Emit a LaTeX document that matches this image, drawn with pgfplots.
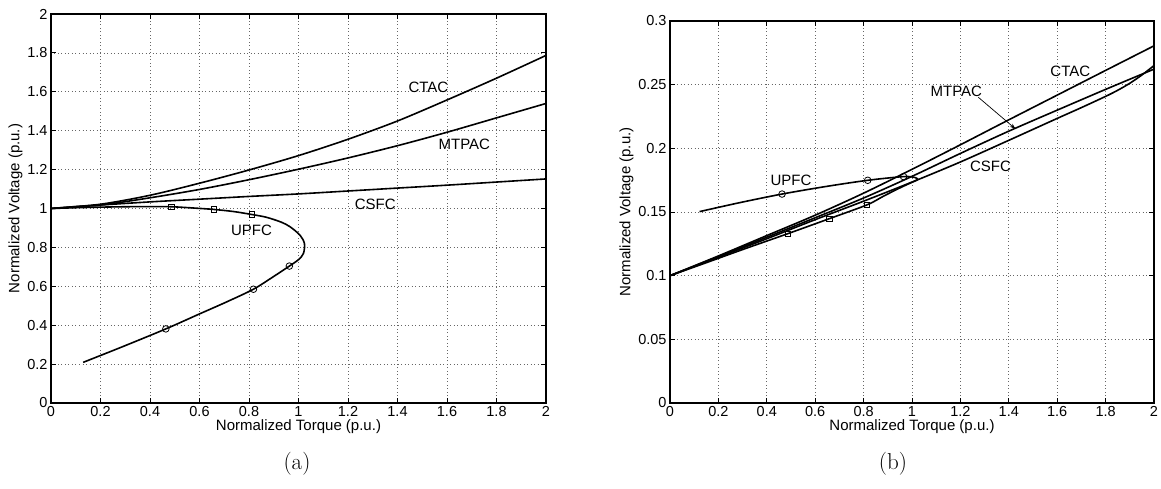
\documentclass[border=0pt]{standalone}
\usepackage{fontspec}
\usepackage{pgfplots}
\pgfplotsset{compat=1.18}
\usetikzlibrary{arrows.meta}
\newfontfamily\arial{Liberation Sans}
\tikzset{lab/.style={font=\arial\fontsize{15}{17}\selectfont}}
\pgfplotsset{
  mat/.style={
    scale only axis,
    xmin=0, xmax=2,
    xtick={0,0.2,0.4,0.6,0.8,1,1.2,1.4,1.6,1.8,2},
    grid=major,
    grid style={dash pattern=on 0.9pt off 2.6pt, black!60, line width=0.7pt},
    tick align=inside,
    major tick length=5pt,
    axis line style={line width=1.2pt},
    tick style={line width=0.9pt, black},
    ticklabel style={font=\arial\fontsize{14.5}{16}\selectfont},
    label style={font=\arial\fontsize{15}{17}\selectfont},
    /pgf/number format/assume math mode=true,
    /pgf/number format/fixed,
    /pgf/number format/precision=2,
    xlabel={Normalized Torque (p.u.)},
    ylabel={Normalized Voltage (p.u.)},
    xlabel style={yshift=4pt},
    ylabel style={yshift=-2pt},
  },
  curve/.style={black, line width=1.6pt, smooth, mark=none},
  sq/.style={only marks, mark=square, mark size=2.7pt, mark options={black, line width=0.8pt, fill=none}},
  ci/.style={only marks, mark=o, mark size=3.3pt, mark options={black, line width=0.8pt}},
}
\begin{document}
\begin{tikzpicture}
\useasboundingbox (0,0) rectangle (1161pt,488pt);
% ---------------- (a) ----------------
\begin{axis}[mat, at={(51pt,85pt)}, anchor=south west,
  width=495pt, height=389pt, ymin=0, ymax=2,
  ytick={0,0.2,0.4,0.6,0.8,1,1.2,1.4,1.6,1.8,2}]
\addplot[curve] coordinates {(0,1) (0.2,1.022) (0.4,1.068) (0.6,1.13) (0.8,1.198) (1.0,1.272) (1.2,1.356) (1.4,1.45) (1.6,1.558) (1.8,1.67) (2.0,1.787)};
\addplot[curve] coordinates {(0,1) (0.2,1.018) (0.4,1.055) (0.6,1.098) (0.8,1.148) (1.0,1.202) (1.2,1.26) (1.4,1.323) (1.6,1.392) (1.8,1.466) (2.0,1.54)};
\addplot[curve] coordinates {(0,1) (0.1,1.01) (0.2,1.018) (0.4,1.034) (0.6,1.048) (0.8,1.062) (1.0,1.075) (1.2,1.09) (1.4,1.105) (1.6,1.12) (1.8,1.136) (2.0,1.152)};
\addplot[curve] coordinates {(0,1) (0.1,1.004) (0.2,1.007) (0.3,1.009) (0.4,1.01) (0.487,1.009) (0.57,1.003) (0.659,0.995) (0.74,0.984) (0.812,0.969) (0.87,0.955) (0.93,0.93) (0.966,0.906) (1.006,0.863) (1.024,0.82) (1.02,0.769) (1.0,0.737) (0.963,0.704) (0.899,0.65) (0.818,0.585) (0.71,0.52) (0.6,0.458) (0.464,0.381) (0.292,0.291) (0.13,0.209)};
\addplot[sq] coordinates {(0.487,1.009) (0.659,0.995) (0.812,0.969)};
\addplot[ci] coordinates {(0.963,0.704) (0.818,0.585) (0.464,0.381)};
\node[lab] at (axis cs:1.525,1.623) {CTAC};
\node[lab] at (axis cs:1.67,1.332) {MTPAC};
\node[lab] at (axis cs:1.31,1.023) {CSFC};
\node[lab] at (axis cs:0.81,0.89) {UPFC};
\end{axis}
% ---------------- (b) ----------------
\begin{axis}[mat, at={(670pt,85pt)}, anchor=south west,
  width=484pt, height=382pt, ymin=0, ymax=0.3,
  ytick={0,0.05,0.1,0.15,0.2,0.25,0.3}]
\addplot[curve] coordinates {(0,0.1) (0.2,0.1155) (0.4,0.1315) (0.6,0.1475) (0.8,0.1648) (1.0,0.1835) (1.2,0.2028) (1.4,0.2224) (1.6,0.2418) (1.8,0.2612) (2.0,0.2805)};
\addplot[curve] coordinates {(0,0.1) (0.2,0.115) (0.4,0.1302) (0.6,0.1455) (0.8,0.161) (1.0,0.178) (1.2,0.196) (1.4,0.2135) (1.6,0.23) (1.8,0.2463) (2.0,0.2622)};
\addplot[curve] coordinates {(0,0.1) (0.2,0.1145) (0.4,0.129) (0.6,0.144) (0.8,0.1585) (1.0,0.1735) (1.2,0.1893) (1.4,0.2063) (1.6,0.2235) (1.7,0.232) (1.8,0.2408) (1.85,0.2456) (1.9,0.2511) (1.95,0.2576) (2.0,0.265)};
\addplot[curve] coordinates {(0.122,0.1503) (0.287,0.1573) (0.463,0.1641) (0.64,0.1699) (0.817,0.1749) (0.965,0.1778) (1.01,0.1772) (1.023,0.1758) (1.015,0.1746) (0.99,0.1725) (0.94,0.168) (0.88,0.1622) (0.814,0.1556) (0.659,0.1448) (0.487,0.133) (0.3,0.1205) (0.15,0.1102) (0,0.1)};
\addplot[ci] coordinates {(0.463,0.1641) (0.817,0.1749) (0.965,0.1778)};
\addplot[sq] coordinates {(0.487,0.133) (0.659,0.1448) (0.814,0.1556)};
\node[lab] at (axis cs:1.654,0.2603) {CTAC};
\node[lab] at (axis cs:1.183,0.2446) {MTPAC};
\node[lab] at (axis cs:1.324,0.1856) {CSFC};
\node[lab] at (axis cs:0.5,0.1747) {UPFC};
\draw[line width=0.7pt, -{Stealth[length=6pt,width=4pt]}] (axis cs:1.274,0.2401) -- (axis cs:1.428,0.2152);
\end{axis}
\node[font=\fontsize{23}{26}\selectfont] at (297pt,24pt) {(a)};
\node[font=\fontsize{23}{26}\selectfont] at (893pt,24pt) {(b)};
\end{tikzpicture}
\end{document}
